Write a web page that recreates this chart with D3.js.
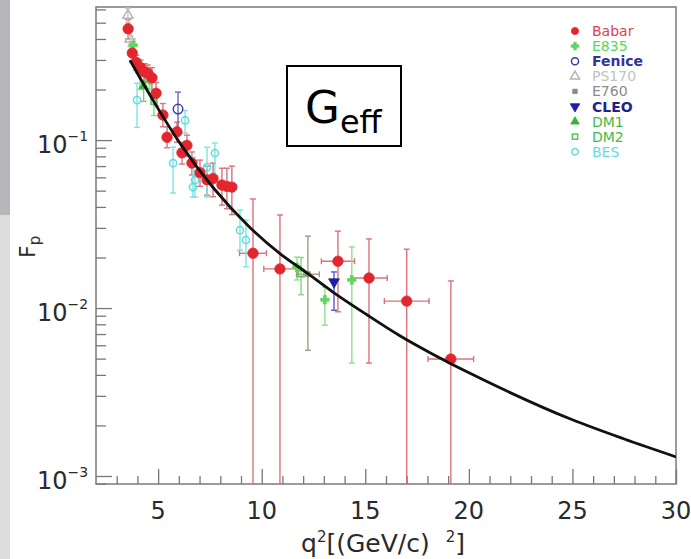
<!DOCTYPE html>
<html><head><meta charset="utf-8">
<script src="https://cdn.jsdelivr.net/npm/d3@7"></script>
<style>
body{margin:0;background:#fff}
svg{display:block}
text{font-family:"DejaVu Sans",sans-serif}
</style>
</head><body>
<svg width="691" height="559"></svg>
<script>
// data rows: [q2, F, F low, F high, q2 half-width]
var babar = [
  [3.55, 0.46, 0.40, 0.52, 0.1], [3.75, 0.33, 0.29, 0.37, 0.1], [3.95, 0.29, 0.26, 0.32, 0.1],
  [4.15, 0.27, 0.24, 0.30, 0.1], [4.35, 0.255, 0.225, 0.285, 0.1], [4.5, 0.25, 0.22, 0.28, 0.1],
  [4.7, 0.235, 0.2, 0.27, 0.1], [4.9, 0.19, 0.16, 0.22, 0.1], [5.23, 0.141, 0.12, 0.165, 0.15],
  [5.43, 0.104, 0.09, 0.12, 0.15], [5.91, 0.112, 0.097, 0.128, 0.15], [6.15, 0.084, 0.072, 0.097, 0.15],
  [6.39, 0.093, 0.08, 0.107, 0.15], [6.63, 0.073, 0.062, 0.085, 0.15], [7.02, 0.064, 0.053, 0.076, 0.2],
  [7.36, 0.058, 0.047, 0.07, 0.2], [7.65, 0.059, 0.046, 0.073, 0.2], [8.08, 0.054, 0.041, 0.068, 0.2],
  [8.32, 0.053, 0.039, 0.068, 0.2], [8.56, 0.0525, 0.036, 0.07, 0.2],
  [9.58, 0.0212, 0.0005, 0.0446, 0.65], [10.88, 0.0171, 0.0005, 0.0358, 0.78],
  [13.68, 0.019, 0.0095, 0.0287, 0.8], [15.18, 0.0151, 0.0047, 0.0258, 0.88],
  [17.0, 0.011, 0.0005, 0.0224, 1.08], [19.13, 0.00497, 0.0005, 0.0145, 1.1]
];
var e835 = [
  [3.79, 0.367, 0.33, 0.40, 0], [4.12, 0.254, 0.2, 0.3, 0], [4.6, 0.227, 0.2, 0.255, 0],
  [11.7, 0.0175, 0.0147, 0.0201, 0], [13.05, 0.0112, 0.0079, 0.0133, 0], [14.35, 0.0147, 0.0047, 0.0231, 0]
];
var fenice = [[5.96, 0.153, 0.115, 0.193, 0]];
var ps170 = [[3.54, 0.554, 0.5, 0.61, 0], [3.65, 0.40, 0.36, 0.44, 0]];
var e760 = [[12.23, 0.0159, 0.0056, 0.0268, 0.55]];
var cleo = [[13.49, 0.0143, 0.0097, 0.0164, 0]];
var dm1 = [[4.3, 0.21, 0.17, 0.25, 0]];
var dm2 = [[4.8, 0.17, 0.14, 0.2, 0], [11.9, 0.016, 0.012, 0.02, 0]];
var bes = [
  [3.98, 0.173, 0.119, 0.218, 0], [5.72, 0.0729, 0.0484, 0.0908, 0], [6.3, 0.131, 0.11, 0.15, 0],
  [6.68, 0.0525, 0.0458, 0.0792, 0], [6.78, 0.0578, 0.0458, 0.0655, 0], [7.36, 0.069, 0.0458, 0.0908, 0],
  [7.74, 0.0837, 0.06, 0.096, 0], [8.95, 0.0291, 0.0221, 0.0383, 0], [9.24, 0.0254, 0.0176, 0.0334, 0]
];

// fit curve
var fitQ2 = [3.64, 4.75, 6.05, 7.65, 9.43, 10.88, 12.18, 13.44, 15.08, 16.67, 18.26, 19.91, 21.5, 25, 27.5, 30];
var fitF = [0.2992, 0.1730, 0.0959, 0.0522, 0.0302, 0.0211, 0.0162, 0.01245, 0.00912, 0.00684,
            0.00531, 0.00417, 0.00335, 0.00216, 0.00166, 0.0013];

var xTicks = [5, 10, 15, 20, 25, 30];
var yDecades = [1e-3, 1e-2, 1e-1];
var yLabels = ["\u22123", "\u22122", "\u22121"];

var series = [
  {name: "Babar", data: babar, color: "#e3262d", bar: "#d9737b", text: "#e0404c", sym: d3.symbolCircle, fill: true, size: 85, bold: false},
  {name: "E835", data: e835, color: "#5fd65f", bar: "#8fdf8f", text: "#5ad65a", sym: d3.symbolCross, fill: true, size: 40, bold: false},
  {name: "Fenice", data: fenice, color: "#3d3d9e", bar: "#6a6ab4", text: "#333399", sym: d3.symbolCircle, fill: false, size: 70, bold: true},
  {name: "PS170", data: ps170, color: "#b5b5b5", bar: "#c8c8c8", text: "#c2c2c2", sym: d3.symbolTriangle, fill: false, size: 45, bold: false},
  {name: "E760", data: e760, color: "#8c8c7a", bar: "#a89a80", text: "#8a8a8a", sym: d3.symbolSquare, fill: true, size: 25, bold: false},
  {name: "CLEO", data: cleo, color: "#1e1ea8", bar: "#5a5ac0", text: "#22228f", sym: d3.symbolTriangle, fill: true, size: 50, bold: true, flip: true},
  {name: "DM1", data: dm1, color: "#38b438", bar: "#7ccc7c", text: "#44bb44", sym: d3.symbolTriangle, fill: true, size: 40, bold: false},
  {name: "DM2", data: dm2, color: "#55c455", bar: "#8ad48a", text: "#44bb44", sym: d3.symbolSquare, fill: false, size: 35, bold: false},
  {name: "BES", data: bes, color: "#5fdcdc", bar: "#7fe3e3", text: "#66dddd", sym: d3.symbolCircle, fill: false, size: 40, bold: false}
];

var svg = d3.select("svg");

// side strip
svg.append("rect").attr("x", 0).attr("y", 0).attr("width", 10).attr("height", 215).attr("fill", "#b6b7bb");
svg.append("rect").attr("x", 0).attr("y", 215).attr("width", 10).attr("height", 344).attr("fill", "#dcdcdc");

var x = d3.scaleLinear().domain([2, 30]).range([96, 676]);
var y = d3.scaleLog().domain([0.000896, 0.62]).range([484, 7]);

svg.append("defs").append("clipPath").attr("id", "clip")
  .append("rect").attr("x", x(2)).attr("y", y(0.62)).attr("width", x(30) - x(2)).attr("height", y(0.000896) - y(0.62));

// ticks
function tickStyle(g) { g.select(".domain").remove(); g.selectAll("line").attr("stroke", "#777").attr("stroke-width", 1.3); }
var minorY = y.ticks().filter(function(v) { return v >= 0.000896 && v <= 0.62; });
svg.append("g").attr("transform", "translate(" + x(2) + ",0)")
  .call(d3.axisRight(y).tickValues(minorY.filter(function(v) { return yDecades.indexOf(v) < 0; })).tickSize(10).tickFormat(""))
  .call(tickStyle);
svg.append("g").attr("transform", "translate(" + x(2) + ",0)")
  .call(d3.axisRight(y).tickValues(yDecades).tickSize(16).tickFormat(""))
  .call(tickStyle);

var minorX = d3.range(3, 30).filter(function(v) { return v % 5 !== 0; });
svg.append("g").attr("transform", "translate(0," + y(0.000896) + ")")
  .call(d3.axisTop(x).tickValues(minorX).tickSize(8).tickFormat(""))
  .call(tickStyle);
svg.append("g").attr("transform", "translate(0," + y(0.000896) + ")")
  .call(d3.axisTop(x).tickValues(xTicks).tickSize(15).tickFormat(""))
  .call(tickStyle);

// frame
svg.append("rect").attr("x", x(2)).attr("y", y(0.62)).attr("width", x(30) - x(2)).attr("height", y(0.000896) - y(0.62))
  .attr("fill", "none").attr("stroke", "#7a7a7a").attr("stroke-width", 1.5);

// tick labels
svg.append("g").selectAll("text").data(xTicks).enter().append("text")
  .attr("x", function(d) { return x(d); }).attr("y", 519)
  .attr("text-anchor", "middle").attr("font-size", 24).attr("fill", "#2a2a2a")
  .text(function(d) { return d; });

var yl = svg.append("g").selectAll("text").data(yDecades).enter().append("text")
  .attr("x", 37).attr("y", function(d) { return y(d) + 13; })
  .attr("font-size", 24).attr("fill", "#2a2a2a");
yl.append("tspan").text("10");
yl.append("tspan").attr("font-size", 14).attr("dy", -12).text(function(d, i) { return yLabels[i]; });

// axis titles
var xt = svg.append("text").attr("x", 383).attr("y", 552).attr("text-anchor", "middle").attr("font-size", 25).attr("fill", "#2a2a2a");
xt.append("tspan").text("q");
xt.append("tspan").attr("font-size", 15).attr("dy", -10).text("2");
xt.append("tspan").attr("dy", 10).text("[(GeV/c)\u00a0\u00a0");
xt.append("tspan").attr("font-size", 15).attr("dy", -10).text("2");
xt.append("tspan").attr("dy", 10).text("]");

var yt = svg.append("text").attr("transform", "translate(35,258) rotate(-90)").attr("font-size", 22).attr("fill", "#2a2a2a");
yt.append("tspan").text("F");
yt.append("tspan").attr("font-size", 15).attr("dy", 5).text("p");

// data
var plot = svg.append("g").attr("clip-path", "url(#clip)");
var yMin = 0.000896;

series.forEach(function(s) {
  var g = plot.append("g").attr("stroke", s.bar).attr("stroke-width", 1.4).attr("fill", "none");
  s.data.forEach(function(d) {
    var cx = x(d[0]), lo = Math.max(d[2], yMin / 2);
    g.append("line").attr("x1", cx).attr("x2", cx).attr("y1", y(d[3])).attr("y2", y(lo));
    g.append("line").attr("x1", cx - 3).attr("x2", cx + 3).attr("y1", y(d[3])).attr("y2", y(d[3]));
    if (d[2] > yMin) g.append("line").attr("x1", cx - 3).attr("x2", cx + 3).attr("y1", y(d[2])).attr("y2", y(d[2]));
    if (d[4] > 0) {
      var cy = y(d[1]);
      g.append("line").attr("x1", x(d[0] - d[4])).attr("x2", x(d[0] + d[4])).attr("y1", cy).attr("y2", cy);
      g.append("line").attr("x1", x(d[0] - d[4])).attr("x2", x(d[0] - d[4])).attr("y1", cy - 3).attr("y2", cy + 3);
      g.append("line").attr("x1", x(d[0] + d[4])).attr("x2", x(d[0] + d[4])).attr("y1", cy - 3).attr("y2", cy + 3);
    }
  });
});

function drawMarker(sel, s) {
  sel.attr("d", d3.symbol().type(s.sym).size(s.size))
    .attr("fill", s.fill ? s.color : "none")
    .attr("stroke", s.color).attr("stroke-width", s.fill ? 0.8 : 1.5);
}

series.slice().reverse().forEach(function(s) {
  plot.append("g").selectAll("path").data(s.data).enter().append("path")
    .attr("transform", function(d) { return "translate(" + x(d[0]) + "," + y(d[1]) + ")" + (s.flip ? " rotate(180)" : ""); })
    .call(drawMarker, s);
});

// fit
plot.append("path")
  .datum(d3.zip(fitQ2, fitF))
  .attr("fill", "none").attr("stroke", "#111").attr("stroke-width", 2.8)
  .attr("d", d3.line().x(function(d) { return x(d[0]); }).y(function(d) { return y(d[1]); }).curve(d3.curveMonotoneX));

// legend
var lg = svg.append("g").selectAll("g").data(series).enter().append("g")
  .attr("transform", function(d, i) { return "translate(575," + (31 + i * 15.1) + ")"; });
lg.append("path").each(function(s) {
  d3.select(this).attr("transform", s.flip ? "rotate(180)" : null).call(drawMarker, {sym: s.sym, size: Math.min(s.size, 50) * 0.8, fill: s.fill, color: s.color});
});
lg.append("text").attr("x", 17).attr("y", 5).attr("font-size", 14)
  .attr("font-weight", function(s) { return s.bold ? "bold" : "normal"; })
  .attr("fill", function(s) { return s.text; })
  .text(function(s) { return s.name; });

// G_eff box
svg.append("rect").attr("x", 287).attr("y", 66).attr("width", 114).attr("height", 80)
  .attr("fill", "#fff").attr("stroke", "#000").attr("stroke-width", 2);
var ge = svg.append("text").attr("x", 305).attr("y", 123)
  .attr("font-family", "Liberation Sans, Arial, sans-serif").attr("font-size", 45).attr("fill", "#000");
ge.append("tspan").text("G");
ge.append("tspan").attr("font-size", 32).attr("dy", 10).text("eff");
</script>
</body></html>
